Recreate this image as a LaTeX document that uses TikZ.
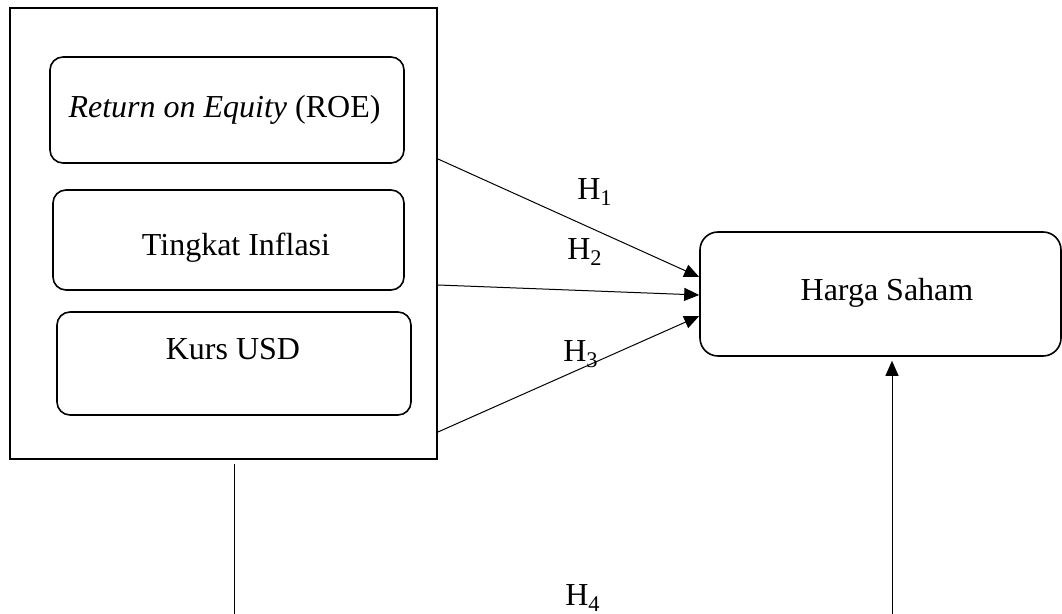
\documentclass[tikz,border=0pt]{standalone}
\usepackage{fontspec}
\setmainfont{Liberation Serif}
\usetikzlibrary{arrows.meta}

\begin{document}
\begin{tikzpicture}[x=0.5pt,y=-0.5pt]
\tikzset{every node/.style={inner sep=0pt, font=\fontsize{16}{19}\selectfont},
  varbox/.style={draw, line width=0.8pt, rounded corners=6.5pt},
  hlabel/.style={anchor=base},
  hyp/.style={line width=0.5pt, -{Triangle[length=7.5pt,width=6.5pt]}}}
\useasboundingbox (0,0) rectangle (1062,614);
% outer frame and the three variables
\node [draw, line width=1pt, minimum width=213.5pt, minimum height=225.5pt] (outer) at (223.5,233.5) {};
\node [varbox, minimum width=177pt, minimum height=53pt] (roe) at (227,110) {};
\node [varbox, minimum width=175.5pt, minimum height=50pt] (infl) at (228.5,240) {};
\node [varbox, minimum width=177pt, minimum height=51.5pt] (kurs) at (234,363.5) {};
\node [varbox, rounded corners=9pt, minimum width=180.5pt, minimum height=62pt] (harga) at (880.5,294) {};
\node [hlabel] (troe) at (224.5,118) {\textit{Return on Equity} (ROE)};
\node [hlabel] (tinfl) at (236,256) {Tingkat Inflasi};
\node [hlabel] (tkurs) at (233,360) {Kurs USD};
\node [hlabel] (tharga) at (887,301) {Harga Saham};
% hypotheses
\draw [hyp] ([yshift=37.25pt]outer.east) -- ([yshift=8.5pt]harga.west);
\draw [hyp] ([yshift=-25.75pt]outer.east) -- ([yshift=-0.5pt]harga.west);
\draw [hyp] ([yshift=-99.25pt]outer.east) -- ([yshift=-11pt]harga.west);
\node [hlabel] (h1) at (595,200) {H\textsubscript{1}};
\node [hlabel] (h2) at (585,260) {H\textsubscript{2}};
\node [hlabel] (h3) at (581,362) {H\textsubscript{3}};
\node [hlabel] (h4) at (583,606) {H\textsubscript{4}};
\coordinate (h4a) at (234,464);
\coordinate (h4b) at (234,614);
\coordinate (h4c) at (892,614);
\draw [line width=0.5pt] (h4a) -- (h4b);
\draw [hyp] (h4c) -- ([yshift=-2pt]h4c |- harga.south);
\end{tikzpicture}
\end{document}
